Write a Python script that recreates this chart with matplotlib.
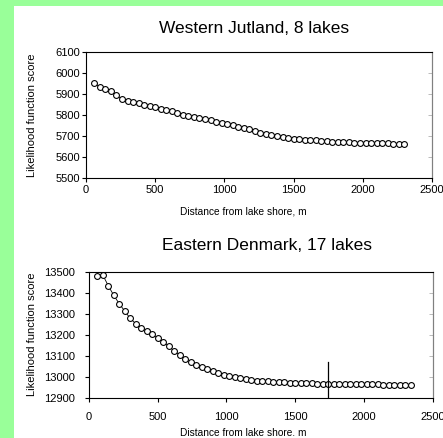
"""
Likelihood score against distance from lake shore, two regions.
"""
import matplotlib.pyplot as plt
from matplotlib.patches import Rectangle

plt.rcParams["font.family"] = ["Liberation Sans", "DejaVu Sans"]

# Western Jutland, 8 lakes
west_dist = [60, 100, 140, 180, 220, 260, 300, 340, 380, 420, 460, 500, 540, 580,
             620, 660, 700, 740, 780, 820, 860, 900, 940, 980, 1020, 1060, 1100,
             1140, 1180, 1220, 1260, 1300, 1340, 1380, 1420, 1460, 1500, 1540,
             1580, 1620, 1660, 1700, 1740, 1780, 1820, 1860, 1900, 1940, 1980,
             2020, 2060, 2100, 2140, 2180, 2220, 2260, 2300]
west_score = [5952, 5933, 5924, 5913, 5894, 5876, 5867, 5860, 5856, 5848, 5841,
              5837, 5830, 5824, 5817, 5808, 5800, 5797, 5790, 5784, 5779, 5775,
              5768, 5763, 5757, 5751, 5744, 5740, 5731, 5722, 5714, 5708, 5703,
              5698, 5693, 5690, 5688, 5685, 5683, 5681, 5679, 5677, 5675, 5673,
              5671, 5671, 5670, 5669, 5668, 5668, 5667, 5666, 5665, 5665, 5664,
              5663, 5663]

# Eastern Denmark, 17 lakes
east_dist = west_dist + [2340]
east_score = [13481, 13486, 13435, 13389, 13349, 13314, 13279, 13254, 13233,
              13219, 13203, 13184, 13167, 13146, 13124, 13105, 13084, 13071,
              13059, 13048, 13038, 13029, 13019, 13011, 13006, 13002, 12995,
              12992, 12987, 12983, 12981, 12979, 12977, 12976, 12974, 12973,
              12972, 12971, 12970, 12970, 12969, 12969, 12968, 12968, 12968,
              12967, 12967, 12967, 12966, 12966, 12965, 12965, 12964, 12963,
              12962, 12961, 12960, 12960]
east_mark = 1740  # vertical marker line
east_mark_top = 13070

W, H = 443, 438
fig = plt.figure(figsize=(W / 100, H / 100), dpi=100, facecolor="white")

# green frame strips on the left and top
bg = fig.add_axes([0, 0, 1, 1], zorder=-10)
bg.set_xlim(0, W)
bg.set_ylim(H, 0)
bg.axis("off")
bg.add_patch(Rectangle((0, 0), 14, H, facecolor="#99ff99", edgecolor="none"))
bg.add_patch(Rectangle((0, 0), W, 6, facecolor="#99ff99", edgecolor="none"))


def px_axes(left, top, right, bottom):
    return fig.add_axes([left / W, 1 - bottom / H, (right - left) / W, (bottom - top) / H])


def style(ax, ylim, yticks, ypad, xpad):
    ax.set_xlim(0, 2500)
    ax.set_xticks([0, 500, 1000, 1500, 2000, 2500])
    ax.set_ylim(*ylim)
    ax.set_yticks(yticks)
    ax.tick_params(direction="out", length=3, width=0.8, labelsize=8)
    ax.tick_params(axis="y", pad=ypad)
    ax.tick_params(axis="x", pad=xpad)
    ax.spines["right"].set_color("#808080")
    for s in ("left", "bottom", "top"):
        ax.spines[s].set_linewidth(0.8)
    # faint inward ticks on the grey right border
    sec = ax.secondary_yaxis("right")
    sec.set_yticks(yticks)
    sec.tick_params(direction="in", length=3, width=0.6, color="#b0b0b0",
                    labelright=False)
    sec.spines["right"].set_color("#808080")


marker = dict(marker="o", ms=4.2, mfc="white", mec="black", mew=0.8,
              color="black", lw=0.6)

ax1 = px_axes(86, 52, 432, 178)
ax1.plot(west_dist, west_score, **marker)
style(ax1, (5500, 6100), range(5500, 6101, 100), 1, 2)
fig.text(254 / W, 1 - 33 / H, "Western Jutland, 8 lakes", ha="center",
         va="baseline", fontsize=12.5)
fig.text(243.5 / W, 1 - 215 / H, "Distance from lake shore, m", ha="center",
         va="baseline", fontsize=7.3)
fig.text(32 / W, 1 - 115 / H, "Likelihood function score", ha="center",
         va="center", rotation=90, fontsize=8)

ax2 = px_axes(89, 272, 432.5, 398)
ax2.plot(east_dist, east_score, **marker)
ax2.plot([east_mark, east_mark], [12900, east_mark_top], color="black", lw=0.9)
style(ax2, (12900, 13500), range(12900, 13501, 100), 7, 7)
fig.text(266.5 / W, 1 - 250 / H, "Eastern Denmark, 17 lakes", ha="center",
         va="baseline", fontsize=12.5)
fig.text(243.5 / W, 1 - 436 / H, "Distance from lake shore. m", ha="center",
         va="baseline", fontsize=7.3)
fig.text(32 / W, 1 - 334 / H, "Likelihood function score", ha="center",
         va="center", rotation=90, fontsize=8)

fig.savefig("out.png", dpi=100)
